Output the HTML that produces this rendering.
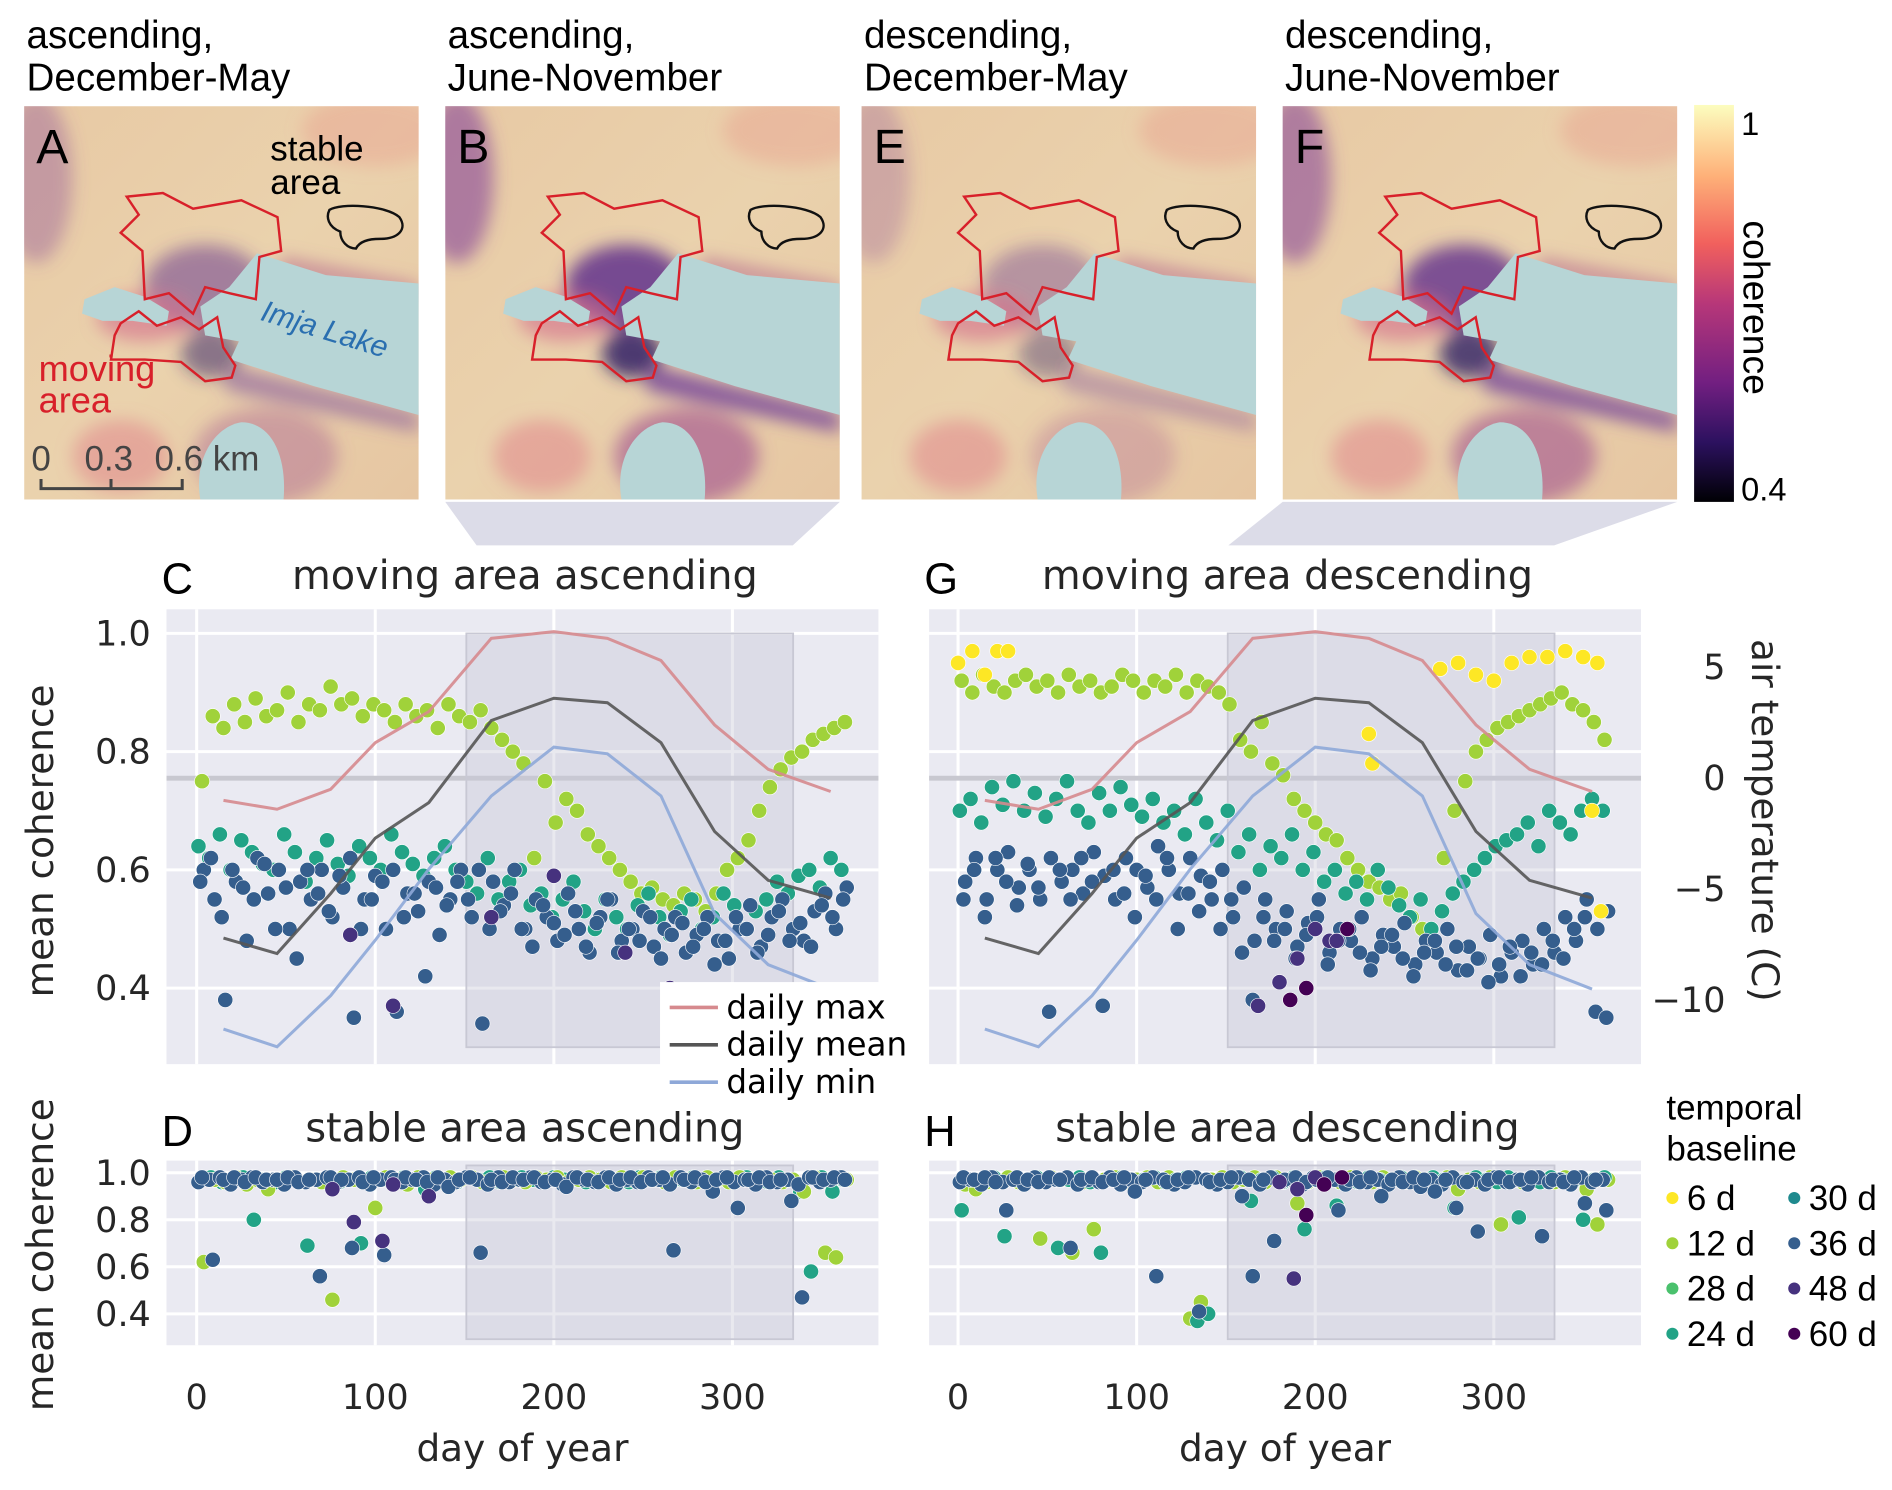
<!DOCTYPE html>
<html><head><meta charset="utf-8">
<style>
html,body{margin:0;padding:0;background:#fff;}
svg{display:block;}
.t{font-family:"DejaVu Sans","Liberation Sans",sans-serif;fill:#262626;}
.a{font-family:"Liberation Sans",sans-serif;fill:#000;}
</style></head>
<body>
<svg id="fig" width="1892" height="1490" viewBox="0 0 1568 1235" preserveAspectRatio="none" xmlns="http://www.w3.org/2000/svg">
<defs>
<linearGradient id="cbar" x1="0" y1="1" x2="0" y2="0">
<stop offset="0" stop-color="#000004"/><stop offset="0.15" stop-color="#2c115f"/><stop offset="0.3" stop-color="#721f81"/><stop offset="0.5" stop-color="#b73779"/><stop offset="0.65" stop-color="#f1605d"/><stop offset="0.82" stop-color="#feb078"/><stop offset="1" stop-color="#fcfdbf"/>
</linearGradient>
<linearGradient id="terrain" x1="0" y1="0" x2="1" y2="1">
<stop offset="0" stop-color="#e8c9a4"/><stop offset="0.5" stop-color="#ead2ad"/><stop offset="1" stop-color="#e6c6a2"/>
</linearGradient>
<filter id="blur" x="-50%" y="-50%" width="200%" height="200%"><feGaussianBlur stdDeviation="7"/></filter>
<clipPath id="mapclip"><rect x="0" y="0" width="327" height="326"/></clipPath>
</defs>
<g id="maps"></g>
<g id="plots"></g>
</svg>
<script>
// ---------- DATA ----------
const xTicks = [0,100,200,300];
const yTicksTop = [0.4,0.6,0.8,1.0];
const yTicksBot = [0.4,0.6,0.8,1.0];
const tTicks = [5,0,-5,-10];
const tempDays = [15,45,75,100,130,165,200,230,260,290,320,355];
const tempMax  = [-1.0,-1.4,-0.5,1.6,3.0,6.3,6.6,6.3,5.3,2.4,0.4,-0.6];
const tempMean = [-7.2,-7.9,-5.2,-2.7,-1.1,2.6,3.6,3.4,1.6,-2.4,-4.6,-5.4];
const tempMin  = [-11.3,-12.1,-9.8,-7.3,-4.1,-0.8,1.4,1.1,-0.8,-6.1,-8.4,-9.5];
const summerStart = 151, summerEnd = 334;
const legendBaselines = ["6 d","12 d","28 d","24 d","30 d","36 d","48 d","60 d"];
const baselineColors = ["#fde725","#a0d23a","#4ac16d","#22a386","#1f8a8e","#355e8d","#46327e","#440154"];

const c12 = [0.75,0.86,0.84,0.88,0.85,0.89,0.86,0.87,0.9,0.85,0.88,0.87,0.91,0.88,0.89,0.86,0.88,0.87,0.85,0.88,0.86,0.87,0.84,0.88,0.86,0.85,0.87,0.84,0.82,0.8,0.78,0.62,0.75,0.68,0.72,0.7,0.66,0.64,0.62,0.6,0.58,0.56,0.57,0.55,0.54,0.56,0.55,0.53,0.56,0.6,0.62,0.65,0.7,0.74,0.77,0.79,0.8,0.82,0.83,0.84,0.85];
const c24 = [0.64,0.62,0.66,0.6,0.65,0.63,0.61,0.6,0.66,0.63,0.58,0.62,0.65,0.61,0.59,0.64,0.62,0.6,0.66,0.63,0.61,0.59,0.62,0.64,0.6,0.58,0.56,0.62,0.55,0.58,0.6,0.54,0.56,0.52,0.55,0.58,0.53,0.5,0.55,0.52,0.5,0.54,0.56,0.52,0.49,0.53,0.55,0.5,0.52,0.56,0.54,0.5,0.53,0.55,0.58,0.56,0.59,0.6,0.57,0.62,0.6];
const c36 = [0.6,0.55,0.38,0.58,0.48,0.62,0.56,0.6,0.5,0.58,0.55,0.6,0.52,0.57,0.35,0.55,0.59,0.5,0.36,0.56,0.53,0.58,0.49,0.55,0.6,0.52,0.34,0.58,0.54,0.6,0.5,0.55,0.52,0.48,0.56,0.5,0.46,0.52,0.55,0.48,0.5,0.53,0.47,0.5,0.52,0.46,0.49,0.52,0.48,0.45,0.5,0.54,0.47,0.52,0.55,0.5,0.48,0.53,0.56,0.5,0.57];
const c36b = [0.58,0.62,0.52,0.6,0.57,0.55,0.61,0.5,0.57,0.45,0.6,0.56,0.53,0.59,0.62,0.5,0.55,0.58,0.6,0.52,0.56,0.42,0.57,0.54,0.58,0.55,0.6,0.5,0.53,0.56,0.5,0.47,0.54,0.51,0.49,0.53,0.47,0.51,0.55,0.46,0.5,0.48,0.52,0.45,0.49,0.51,0.47,0.5,0.44,0.48,0.52,0.5,0.46,0.49,0.53,0.48,0.51,0.47,0.54,0.52,0.55];
const c48pts = [[86,0.49],[110,0.37],[165,0.52],[200,0.59],[240,0.46],[265,0.4]];

const g6pts = [[0,0.95],[8,0.97],[15,0.93],[22,0.97],[28,0.97],[270,0.94],[280,0.95],[290,0.93],[300,0.92],[310,0.95],[320,0.96],[330,0.96],[340,0.97],[350,0.96],[358,0.95],[230,0.83],[232,0.78],[355,0.7],[360,0.53]];
const g12 = [0.92,0.9,0.93,0.91,0.9,0.92,0.93,0.91,0.92,0.9,0.93,0.91,0.92,0.9,0.91,0.93,0.92,0.9,0.92,0.91,0.93,0.9,0.92,0.91,0.9,0.88,0.82,0.8,0.85,0.78,0.76,0.72,0.7,0.68,0.66,0.65,0.62,0.6,0.58,0.57,0.55,0.56,0.52,0.5,0.48,0.62,0.7,0.75,0.8,0.82,0.84,0.85,0.86,0.87,0.88,0.89,0.9,0.88,0.87,0.85,0.82];
const g24 = [0.7,0.72,0.68,0.74,0.71,0.75,0.7,0.73,0.69,0.72,0.75,0.7,0.68,0.73,0.7,0.74,0.71,0.69,0.72,0.68,0.7,0.66,0.72,0.68,0.65,0.7,0.63,0.66,0.6,0.64,0.62,0.66,0.6,0.63,0.58,0.6,0.56,0.58,0.55,0.6,0.57,0.54,0.52,0.55,0.5,0.53,0.56,0.58,0.6,0.62,0.64,0.65,0.66,0.68,0.64,0.7,0.68,0.66,0.7,0.72,0.7];
const g36 = [0.58,0.62,0.55,0.6,0.63,0.57,0.6,0.55,0.62,0.58,0.6,0.56,0.63,0.59,0.55,0.62,0.6,0.57,0.64,0.6,0.56,0.62,0.59,0.55,0.6,0.52,0.57,0.48,0.55,0.5,0.53,0.47,0.51,0.55,0.46,0.5,0.48,0.52,0.45,0.49,0.47,0.51,0.44,0.48,0.46,0.5,0.43,0.47,0.45,0.49,0.42,0.46,0.48,0.44,0.5,0.46,0.52,0.48,0.55,0.5,0.53];
const g36b = [0.55,0.6,0.52,0.62,0.58,0.54,0.61,0.57,0.36,0.6,0.55,0.62,0.58,0.37,0.6,0.56,0.52,0.59,0.55,0.62,0.5,0.56,0.53,0.58,0.5,0.55,0.46,0.38,0.52,0.48,0.5,0.45,0.49,0.52,0.44,0.48,0.5,0.46,0.43,0.47,0.49,0.45,0.42,0.46,0.48,0.44,0.47,0.43,0.45,0.41,0.44,0.47,0.42,0.46,0.44,0.48,0.45,0.5,0.52,0.36,0.35];
const g48pts = [[180,0.41],[190,0.45],[200,0.5],[208,0.48],[212,0.48],[168,0.37]];
const g60pts = [[195,0.4],[186,0.38],[218,0.5]];

const d12 = [0.62,0.97,0.96,0.98,0.95,0.97,0.93,0.97,0.98,0.96,0.97,0.96,0.46,0.98,0.97,0.96,0.85,0.98,0.97,0.95,0.98,0.97,0.96,0.98,0.97,0.98,0.96,0.97,0.98,0.97,0.96,0.98,0.97,0.98,0.96,0.97,0.98,0.97,0.96,0.98,0.97,0.98,0.97,0.96,0.98,0.97,0.96,0.98,0.97,0.96,0.98,0.97,0.98,0.97,0.96,0.97,0.92,0.98,0.66,0.64,0.97];
const d24 = [0.97,0.98,0.96,0.97,0.98,0.8,0.97,0.96,0.98,0.97,0.69,0.97,0.98,0.96,0.97,0.7,0.98,0.97,0.96,0.98,0.97,0.93,0.98,0.97,0.96,0.98,0.97,0.98,0.96,0.97,0.98,0.97,0.96,0.98,0.97,0.98,0.96,0.97,0.98,0.97,0.96,0.98,0.97,0.98,0.96,0.97,0.98,0.97,0.96,0.98,0.97,0.98,0.97,0.96,0.98,0.97,0.92,0.58,0.98,0.92,0.97];
const d36 = [0.98,0.63,0.97,0.98,0.96,0.98,0.97,0.97,0.98,0.96,0.97,0.56,0.98,0.97,0.68,0.96,0.98,0.65,0.97,0.98,0.97,0.96,0.98,0.94,0.97,0.98,0.66,0.97,0.96,0.98,0.97,0.98,0.96,0.97,0.94,0.98,0.97,0.96,0.98,0.97,0.98,0.96,0.97,0.98,0.67,0.97,0.98,0.96,0.97,0.98,0.85,0.97,0.98,0.96,0.97,0.88,0.47,0.98,0.97,0.98,0.97];
const d36b = [0.96,0.97,0.98,0.95,0.97,0.98,0.96,0.97,0.95,0.98,0.96,0.97,0.98,0.96,0.97,0.98,0.95,0.97,0.98,0.96,0.97,0.98,0.95,0.97,0.96,0.98,0.97,0.95,0.98,0.96,0.97,0.98,0.96,0.97,0.95,0.98,0.97,0.96,0.98,0.95,0.97,0.96,0.98,0.97,0.95,0.98,0.96,0.97,0.92,0.98,0.96,0.97,0.95,0.98,0.96,0.97,0.95,0.98,0.96,0.97,0.98];
const d48pts = [[76,0.93],[88,0.79],[104,0.71],[110,0.95],[130,0.9]];

const h12 = [0.95,0.93,0.96,0.97,0.98,0.96,0.97,0.72,0.98,0.97,0.66,0.96,0.76,0.97,0.98,0.96,0.97,0.98,0.96,0.98,0.97,0.38,0.45,0.97,0.98,0.96,0.97,0.98,0.96,0.98,0.97,0.87,0.96,0.98,0.97,0.96,0.98,0.97,0.96,0.98,0.97,0.96,0.98,0.97,0.96,0.98,0.93,0.97,0.96,0.98,0.78,0.97,0.96,0.98,0.97,0.96,0.98,0.97,0.93,0.78,0.97];
const h24 = [0.84,0.97,0.96,0.98,0.73,0.97,0.96,0.98,0.97,0.68,0.97,0.98,0.96,0.66,0.97,0.98,0.96,0.97,0.98,0.96,0.97,0.98,0.37,0.4,0.96,0.97,0.98,0.88,0.97,0.98,0.96,0.98,0.76,0.97,0.98,0.86,0.97,0.96,0.98,0.97,0.96,0.98,0.97,0.96,0.98,0.97,0.85,0.96,0.98,0.97,0.96,0.98,0.81,0.97,0.96,0.98,0.97,0.96,0.8,0.97,0.98];
const h36 = [0.98,0.97,0.98,0.96,0.84,0.98,0.97,0.96,0.98,0.97,0.68,0.97,0.98,0.96,0.97,0.98,0.92,0.97,0.56,0.96,0.97,0.98,0.41,0.96,0.97,0.98,0.9,0.56,0.97,0.71,0.97,0.98,0.96,0.97,0.98,0.84,0.97,0.96,0.98,0.9,0.97,0.96,0.98,0.97,0.92,0.97,0.85,0.96,0.75,0.97,0.98,0.96,0.97,0.98,0.73,0.97,0.96,0.98,0.87,0.97,0.84];
const h36b = [0.96,0.97,0.95,0.98,0.96,0.97,0.95,0.98,0.96,0.97,0.98,0.95,0.97,0.96,0.98,0.95,0.97,0.96,0.98,0.97,0.95,0.96,0.98,0.97,0.95,0.96,0.98,0.97,0.95,0.98,0.96,0.97,0.95,0.98,0.96,0.97,0.95,0.98,0.96,0.97,0.95,0.98,0.96,0.94,0.97,0.95,0.98,0.96,0.97,0.95,0.98,0.96,0.97,0.95,0.98,0.96,0.97,0.95,0.98,0.96,0.97];
const h48pts = [[180,0.96],[190,0.93],[200,0.98],[188,0.55]];
const h60pts = [[195,0.82],[205,0.95],[215,0.98]];

// ---------- DRAWING ----------
const NS = "http://www.w3.org/2000/svg";
const svg = document.getElementById('fig');
function mk(tag, attrs, parent){ const e=document.createElementNS(NS,tag); for(const k in attrs) e.setAttribute(k,attrs[k]); if(parent) parent.appendChild(e); return e; }
function txt(parent, x, y, s, size, cls, extra){ const e=mk('text',Object.assign({x:x,y:y,'font-size':size,'class':cls},extra||{}),parent); e.textContent=s; return e; }

const mapsG = document.getElementById('maps');
const mapX = [20,369,714,1063];
const mapY = 88;
const mapTitles = [["ascending,","December-May"],["ascending,","June-November"],["descending,","December-May"],["descending,","June-November"]];
const mapLetters = ["A","B","E","F"];
const purpleStrength = [0.55,0.9,0.4,0.85];
mapX.forEach((mx,i)=>{
  const g = mk('g',{transform:`translate(${mx},${mapY})`},mapsG);
  
  
  const c = mk('g',{'clip-path':'url(#mapclip)'},g);
  mk('rect',{x:0,y:0,width:327,height:326,fill:'url(#terrain)'},c);
  const bl = mk('g',{filter:'url(#blur)'},c);
  const p = purpleStrength[i];
  mk('ellipse',{cx:10,cy:60,rx:30,ry:70,fill:'#8a4a9a','fill-opacity':p*0.7},bl);
  mk('ellipse',{cx:150,cy:150,rx:50,ry:35,fill:'#6a3a8e','fill-opacity':p},bl);
  mk('ellipse',{cx:155,cy:205,rx:25,ry:20,fill:'#3a2a6a','fill-opacity':p},bl);
  mk('ellipse',{cx:100,cy:175,rx:40,ry:20,fill:'#d36a8a','fill-opacity':0.6},bl);
  mk('path',{d:'M170,215 L327,255 L327,270 L165,235 Z',fill:'#7a4a9a','fill-opacity':p},bl);
  mk('path',{d:'M213,125 L327,148 L327,160 L210,140 Z',fill:'#b0608c','fill-opacity':0.6},bl);
  mk('ellipse',{cx:200,cy:290,rx:60,ry:40,fill:'#a0508e','fill-opacity':p*0.7},bl);
  mk('ellipse',{cx:80,cy:290,rx:40,ry:30,fill:'#e0808a','fill-opacity':0.5},bl);
  mk('ellipse',{cx:290,cy:20,rx:60,ry:30,fill:'#e89088','fill-opacity':0.35},bl);
  mk('path',{d:'M193,122 L250,140 L327,147 L327,256 L240,232 L171,210 L178,195 L150,190 L146,166 L170,150 Z',fill:'#b7d5d6'},c);
  mk('path',{d:'M50,160 L75,150 L100,158 L120,170 L118,182 L90,178 L65,178 L48,172 Z',fill:'#b7d5d6'},c);
  mk('path',{d:'M146,326 C140,290 160,265 180,262 C205,262 218,290 215,326 Z',fill:'#b7d5d6'},c);
  mk('path',{d:'M85,75 L115,72 L140,85 L180,78 L210,92 L213,120 L195,125 L192,160 L170,155 L150,150 L140,172 L120,155 L100,160 L98,120 L80,105 L95,90 Z M80,180 L95,170 L110,182 L130,175 L145,185 L160,175 L165,200 L175,215 L172,225 L150,228 L130,212 L100,210 L72,210 L75,190 Z',fill:'none',stroke:'#d8202a','stroke-width':2},c);
  mk('path',{d:'M253,86 C262,80 300,82 311,92 C318,102 310,110 295,110 C285,110 278,112 275,118 C268,118 262,112 262,104 C252,100 250,92 253,86 Z',fill:'none',stroke:'#111','stroke-width':2},c);
  const lt = txt(g,10,47,mapLetters[i],40,'a');
  
  
  const t1 = txt(mapsG,mx+2,40,mapTitles[i][0],32,'a');
  
  
  const t2 = txt(mapsG,mx+2,75,mapTitles[i][1],32,'a');
  
  
});
const annS = txt(mapsG,224,133,"stable",29,'a');
 
const annS2 = txt(mapsG,224,161,"area",29,'a');
 
const annM = txt(mapsG,32,316,"moving",30,'a',{style:'fill:#d8202a'});
 
const annM2 = txt(mapsG,32,342,"area",30,'a',{style:'fill:#d8202a'});
 
const lake = txt(mapsG,215,265,"Imja Lake",25,'a',{style:'fill:#2a6fb0;font-style:italic',transform:'rotate(17 215 265)'});
 
const sb = mk('g',{},mapsG);
 
mk('path',{d:'M34,397 L34,405 L151,405 L151,397 M92,397 L92,405',fill:'none',stroke:'#444','stroke-width':2.5},sb);
txt(sb,26,390,"0",29,'a',{style:'fill:#444'});
txt(sb,70,390,"0.3",29,'a',{style:'fill:#444'});
txt(sb,128,390,"0.6 km",29,'a',{style:'fill:#444'});
const cb = mk('g',{},mapsG);
 
mk('rect',{x:1404,y:87,width:33,height:329,fill:'url(#cbar)'},cb);
txt(cb,1443,112,"1",27,'a');
txt(cb,1443,415,"0.4",27,'a');
txt(cb,1445,255,"coherence",31,'a',{transform:'rotate(90 1445 255)','text-anchor':'middle'});
const w1 = mk('path',{d:'M369,416 L696,416 L657,452 L395,452 Z',fill:'#dcdce8'},mapsG);
 
const w2 = mk('path',{d:'M1063,416 L1390,416 L1288,452 L1018,452 Z',fill:'#dcdce8'},mapsG);
 

const plotsG = document.getElementById('plots');
function ser(start, step, vals){ return vals.map((v,i)=>[start+step*i, v]); }
function panel(opts){
  const g = mk('g',{},plotsG);
  
  
  const X = d => opts.x0 + d*1.48;
  const Yv = v => opts.y1 + (1.0-v)*opts.ys;
  mk('rect',{x:opts.left,y:opts.top,width:590,height:opts.h,fill:'#eaeaf2'},g);
  const grid = mk('g',{},g);
   
  xTicks.forEach(t=>mk('line',{x1:X(t),x2:X(t),y1:opts.top,y2:opts.top+opts.h,stroke:'#fff','stroke-width':2.5},grid));
  opts.yt.forEach(t=>mk('line',{x1:opts.left,x2:opts.left+590,y1:Yv(t),y2:Yv(t),stroke:'#fff','stroke-width':2.5},grid));
  if(opts.temp){
    const Tn = v => 645 - v*18.4;
    mk('line',{x1:opts.left,x2:opts.left+590,y1:Tn(0),y2:Tn(0),stroke:'#c8c8d0','stroke-width':4},grid);
  }
  const shade = mk('rect',{x:X(summerStart),y:opts.shTop,width:X(summerEnd)-X(summerStart),height:opts.shBot-opts.shTop,fill:'#c8c8d8','fill-opacity':0.4,stroke:'#c8c8d4','stroke-width':1.5},g);
   
  const sc = mk('g',{},g);
   
  opts.series.forEach(s=>{
    s.pts.forEach(p=>{
      const c = mk('circle',{cx:X(p[0]),cy:Yv(p[1]),r:6.3,fill:s.color,stroke:'#fff','stroke-width':0.5},sc);
      
      
    });
  });
  if(opts.temp){
    const Tn = v => 645 - v*18.4;
    [[tempMax,'#d68a8e'],[tempMean,'#555'],[tempMin,'#8ea8d8']].forEach((a,k)=>{
      const d = tempDays.map((dd,i)=>(i?'L':'M')+X(dd)+','+Tn(a[0][i])).join(' ');
      const l = mk('path',{d:d,fill:'none',stroke:a[1],'stroke-width':2.5,'stroke-opacity':0.9},g);
      
      
    });
  }
  if(opts.yLabels){
    opts.yt.forEach(t=>{ const e=txt(g,opts.left-13,Yv(t)+10,t.toFixed(1),29,'t',{'text-anchor':'end'});   });
  }
  if(opts.xLabels){
    xTicks.forEach(t=>{ const e=txt(g,X(t),1168,String(t),29,'t',{'text-anchor':'middle'});   });
    const xl = txt(g,opts.left+295,1211,"day of year",31,'t',{'text-anchor':'middle'});
     
  }
  if(opts.tLabels){
    const Tn = v => 645 - v*18.4;
    tTicks.forEach(t=>{ const e=txt(g,1430,Tn(t)+10,(t<0?'\u2212':'')+Math.abs(t),29,'t',{'text-anchor':'end'});   });
  }
  const lt = txt(g,opts.left-4,opts.titleY+2,opts.letter,36,'a');
   
  const tt = txt(g,opts.left+297,opts.titleY-2,opts.title,33,'t',{'text-anchor':'middle'});
   
}
const col = l => baselineColors[legendBaselines.indexOf(l)];
panel({name:'panel-c-moving-ascending',left:138,top:505,h:377,x0:163,y1:525,ys:490,yt:yTicksTop,shTop:525,shBot:868,temp:true,yLabels:true,letter:'C',title:'moving area ascending',titleY:490,
  series:[{label:'12 d',color:col('12 d'),pts:ser(3,6,c12)},{label:'24 d',color:col('24 d'),pts:ser(1,6,c24)},{label:'36 d',color:col('36 d'),pts:ser(4,6,c36)},{label:'36 d',color:col('36 d'),pts:ser(2,6,c36b)},{label:'48 d',color:col('48 d'),pts:c48pts}]});
panel({name:'panel-g-moving-descending',left:770,top:505,h:377,x0:794,y1:525,ys:490,yt:yTicksTop,shTop:525,shBot:868,temp:true,tLabels:true,letter:'G',title:'moving area descending',titleY:490,
  series:[{label:'12 d',color:col('12 d'),pts:ser(2,6,g12)},{label:'24 d',color:col('24 d'),pts:ser(1,6,g24)},{label:'36 d',color:col('36 d'),pts:ser(4,6,g36)},{label:'36 d',color:col('36 d'),pts:ser(3,6,g36b)},{label:'6 d',color:col('6 d'),pts:g6pts},{label:'48 d',color:col('48 d'),pts:g48pts},{label:'60 d',color:col('60 d'),pts:g60pts}]});
panel({name:'panel-d-stable-ascending',left:138,top:962,h:153,x0:163,y1:972,ys:195,yt:yTicksBot,shTop:966,shBot:1110,yLabels:true,xLabels:true,letter:'D',title:'stable area ascending',titleY:948,
  series:[{label:'24 d',color:col('24 d'),pts:ser(2,6,d24)},{label:'12 d',color:col('12 d'),pts:ser(4,6,d12)},{label:'36 d',color:col('36 d'),pts:ser(1,6,d36b)},{label:'36 d',color:col('36 d'),pts:ser(3,6,d36)},{label:'48 d',color:col('48 d'),pts:d48pts}]});
panel({name:'panel-h-stable-descending',left:770,top:962,h:153,x0:794,y1:972,ys:195,yt:yTicksBot,shTop:966,shBot:1110,xLabels:true,letter:'H',title:'stable area descending',titleY:948,
  series:[{label:'12 d',color:col('12 d'),pts:ser(4,6,h12)},{label:'24 d',color:col('24 d'),pts:ser(2,6,h24)},{label:'36 d',color:col('36 d'),pts:ser(1,6,h36b)},{label:'36 d',color:col('36 d'),pts:ser(3,6,h36)},{label:'48 d',color:col('48 d'),pts:h48pts},{label:'60 d',color:col('60 d'),pts:h60pts}]});

const yl1 = txt(plotsG,44,697,"mean coherence",31,'t',{'text-anchor':'middle',transform:'rotate(-90 44 697)'});
 
const yl2 = txt(plotsG,44,1040,"mean coherence",31,'t',{'text-anchor':'middle',transform:'rotate(-90 44 1040)'});
 
const yr = txt(plotsG,1452,680,"air temperature (C)",31,'t',{'text-anchor':'middle',transform:'rotate(90 1452 680)'});
 

const tl = mk('g',{},plotsG);
 
mk('rect',{x:547,y:814,width:205,height:100,fill:'#fff'},tl);
[["daily max","#d68a8e"],["daily mean","#555"],["daily min","#8ea8d8"]].forEach((e,i)=>{
  const y = 835 + i*31;
  mk('line',{x1:555,x2:595,y1:y,y2:y,stroke:e[1],'stroke-width':3},tl);
  const t = txt(tl,602,y+9,e[0],27,'t',{style:'fill:#000'});
   
});

const bl = mk('g',{},plotsG);
 
txt(bl,1381,928,"temporal",29,'a');
txt(bl,1381,962,"baseline",29,'a');
legendBaselines.forEach((lab,i)=>{
  const colI = Math.floor(i/4), row = i%4;
  const cx = colI ? 1487 : 1386, y = 993 + row*37.5;
  mk('circle',{cx:cx,cy:y,r:5,fill:baselineColors[i]},bl);
  const t = txt(bl,cx+12,y+10,lab,29,'a');
   
});
</script>
</body></html>
